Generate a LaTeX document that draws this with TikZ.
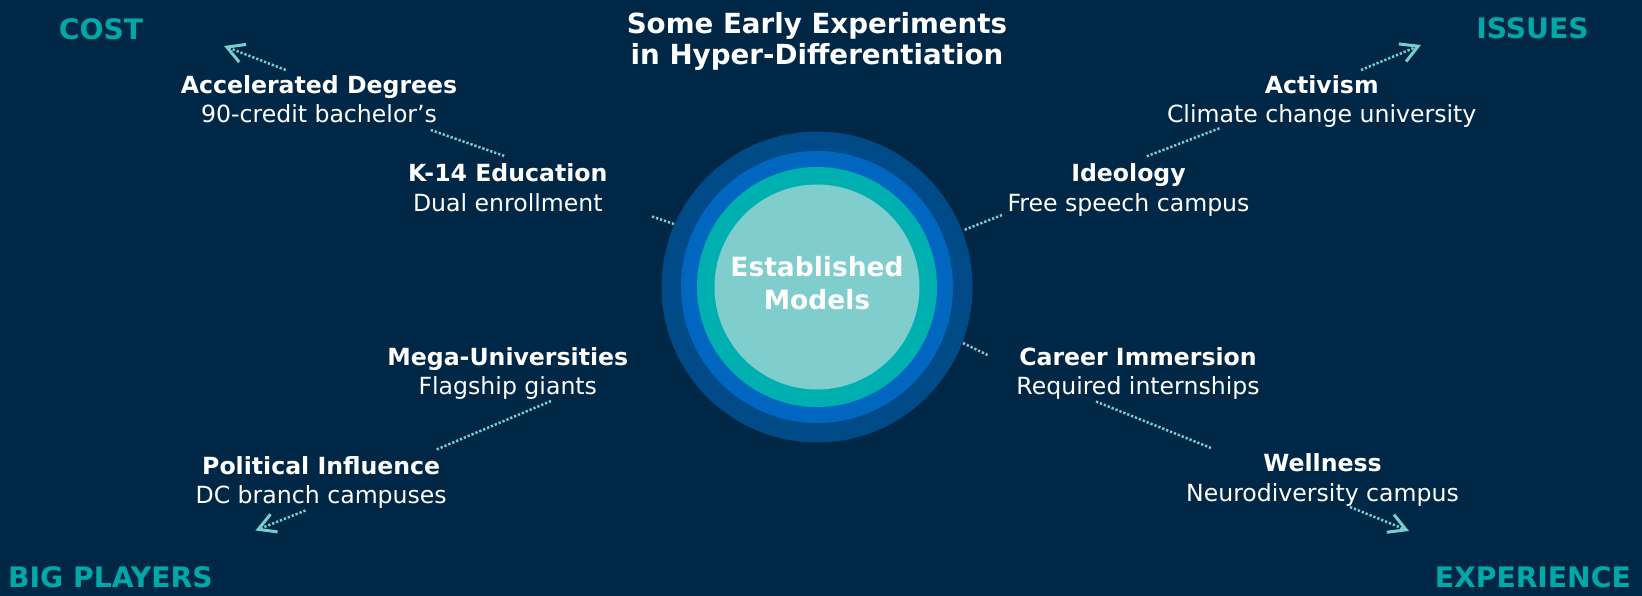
\documentclass[tikz,border=0pt]{standalone}
\usepackage{fontspec}
\setmainfont{DejaVu Sans}
\usetikzlibrary{arrows.meta}
\definecolor{bgc}{RGB}{0,40,70}
\definecolor{ringa}{RGB}{0,75,135}
\definecolor{ringb}{RGB}{0,102,192}
\definecolor{ringc}{RGB}{0,176,176}
\definecolor{ringd}{RGB}{127,205,205}
\definecolor{labc}{RGB}{0,168,168}
\definecolor{linec}{RGB}{120,205,205}
\begin{document}
\begin{tikzpicture}[x=1pt,y=-1pt,
  item/.style={anchor=north, inner sep=0pt, align=center, text=white, font=\fontsize{23.6}{29.4}\selectfont},
  corner/.style={inner sep=0pt, text=labc, font=\fontsize{28.2}{32}\selectfont\bfseries},
  ring/.style={circle, inner sep=0pt, minimum size=#1},
  dotline/.style={draw=linec, line width=2.5pt, dash pattern=on 2.3pt off 1.9pt},
  arr/.style={dotline, -{Straight Barb[length=17pt,width=19pt,line width=3pt]}}
]
\fill[bgc] (0,0) rectangle (1642,596);
\useasboundingbox (0,0) rectangle (1642,596);

% title
\node[anchor=north, inner sep=0pt, align=center, text=white, font=\fontsize{27.7}{31}\selectfont\bfseries] (title) at (817,11.6)
  {Some Early Experiments\strut\\in Hyper-Differentiation\strut};

% rings
\node[ring=311pt, fill=ringa] (r1) at (817,287) {};
\node[ring=272pt, fill=ringb] (r2) at (817,287) {};
\node[ring=240pt, fill=ringc] (r3) at (817,287) {};
\node[ring=205pt, fill=ringd] (r4) at (817,287) {};
\node[anchor=north, inner sep=0pt, align=center, text=white, font=\fontsize{26.5}{32.6}\selectfont\bfseries] (core) at (817,253.9)
  {Established\strut\\Models\strut};

% corner labels
\node[corner] (cost) at (101,28.8) {COST};
\node[corner] (issues) at (1532.5,28.5) {ISSUES};
\node[corner, anchor=west] (big) at (8,577.5) {BIG PLAYERS};
\node[corner, anchor=east] (exp) at (1631,577.5) {EXPERIENCE};

% items
\node[item] (acc) at (319,72.7) {\textbf{Accelerated Degrees}\strut\\90-credit bachelor’s\strut};
\node[item] (k14) at (507.8,161.1) {\textbf{K-14 Education}\strut\\Dual enrollment\strut};
\node[item] (mega) at (507.8,344.4) {\textbf{Mega-Universities}\strut\\Flagship giants\strut};
\node[item] (pol) at (321.2,453.4) {\textbf{Political Influence}\strut\\DC branch campuses\strut};
\node[item] (act) at (1321.7,72.7) {\textbf{Activism}\strut\\Climate change university\strut};
\node[item] (ideo) at (1128.5,161.1) {\textbf{Ideology}\strut\\Free speech campus\strut};
\node[item] (car) at (1138,344.4) {\textbf{Career Immersion}\strut\\Required internships\strut};
\node[item] (well) at (1322.5,451) {\textbf{Wellness}\strut\\Neurodiversity campus\strut};

% connector end points
\coordinate (c1a) at (285.7,70);   \coordinate (c1b) at (224,46);
\coordinate (c2a) at (430.8,130);  \coordinate (c2b) at (504.4,156);
\coordinate (c3a) at (652,216.5);  \coordinate (c3b) at (674,224);
\coordinate (c4a) at (1361,70);    \coordinate (c4b) at (1421,45);
\coordinate (c5a) at (1219.4,128.3); \coordinate (c5b) at (1145,157);
\coordinate (c6a) at (1002,215);   \coordinate (c6b) at (964,230);
\coordinate (c7a) at (551,401);    \coordinate (c7b) at (435.4,450);
\coordinate (c8a) at (305.5,510.5); \coordinate (c8b) at (255.4,530.5);
\coordinate (c9a) at (963,343);    \coordinate (c9b) at (987.5,355);
\coordinate (c10a) at (1096,401.5); \coordinate (c10b) at (1211,448);
\coordinate (c11a) at (1350,507);  \coordinate (c11b) at (1409,531);

\draw[arr] (c1a) -- (c1b);
\draw[dotline] (c2a) -- (c2b);
\draw[dotline] (c3a) -- (c3b);
\draw[arr] (c4a) -- (c4b);
\draw[dotline] (c5a) -- (c5b);
\draw[dotline] (c6a) -- (c6b);
\draw[dotline] (c7a) -- (c7b);
\draw[arr] (c8a) -- (c8b);
\draw[dotline] (c9a) -- (c9b);
\draw[dotline] (c10a) -- (c10b);
\draw[arr] (c11a) -- (c11b);
\end{tikzpicture}
\end{document}
